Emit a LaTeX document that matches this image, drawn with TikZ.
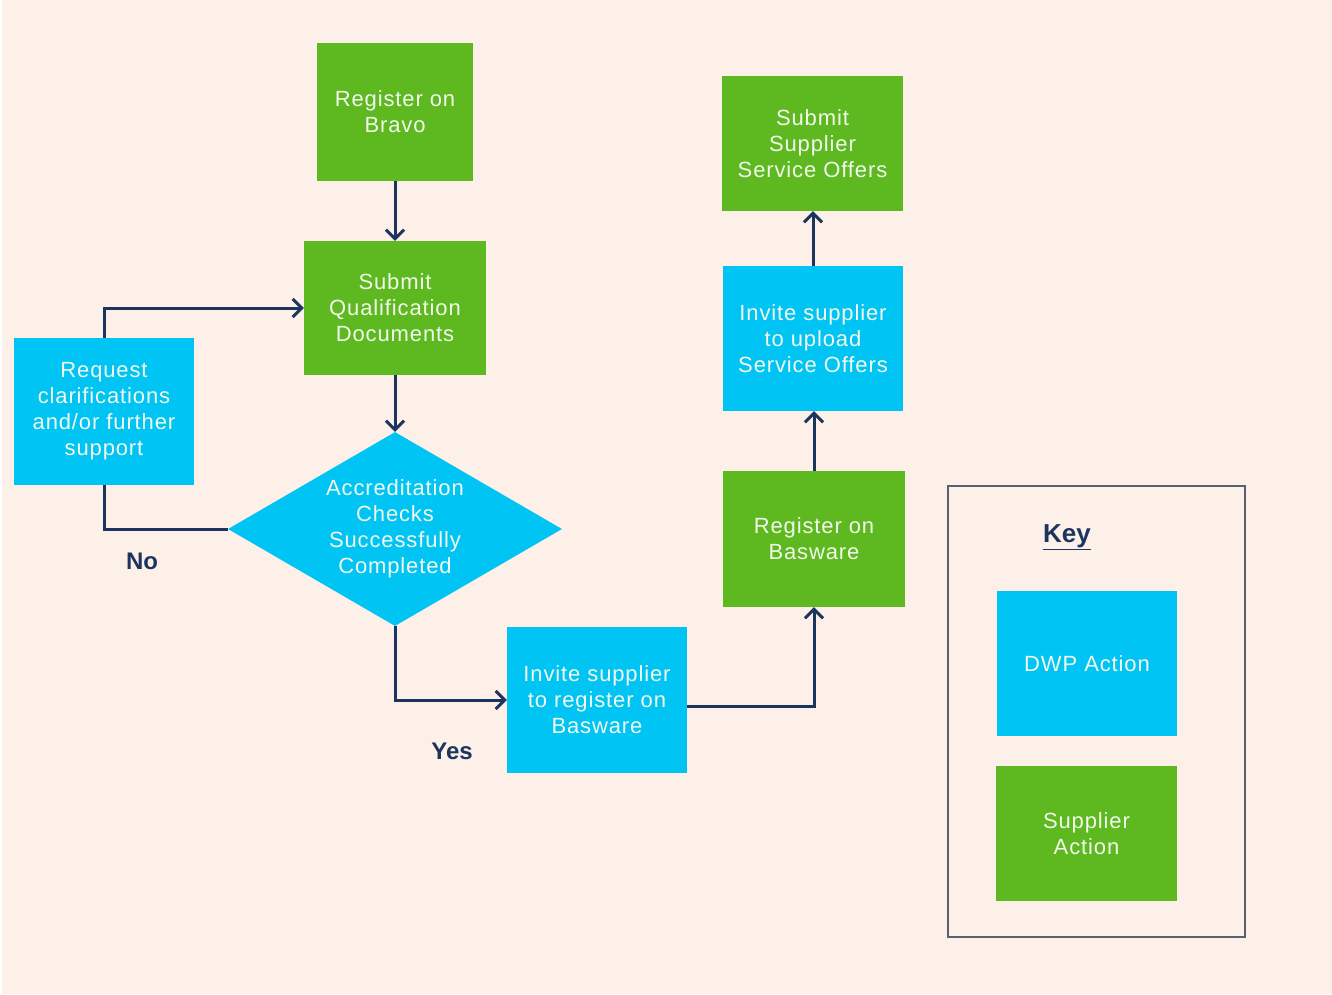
\documentclass[tikz,border=0pt]{standalone}
\usepackage{fontspec}
\setmainfont{Liberation Sans}
\newfontfamily\boxfont[LetterSpace=4]{Liberation Sans}
\usetikzlibrary{arrows.meta,shapes.geometric}
\definecolor{bg}{HTML}{FDF0E8}
\definecolor{grn}{HTML}{5DB91F}
\definecolor{blu}{HTML}{00C4F4}
\definecolor{navy}{HTML}{1C355E}
\definecolor{txt}{HTML}{F2F8EC}
\definecolor{keygray}{HTML}{5A6070}
\begin{document}
\begin{tikzpicture}[x=1pt,y=-1pt,
  base/.style={rectangle, inner sep=0pt, align=center, text=txt,
    font=\boxfont\fontsize{22}{26}\selectfont},
  gbox/.style={base, fill=grn},
  bbox/.style={base, fill=blu},
  conn/.style={draw=navy, line width=3pt},
  arr/.style={conn, -{Straight Barb[length=9pt,width=18pt,line width=3pt]}},
  lbl/.style={text=navy, font=\bfseries\fontsize{24}{28}\selectfont}
]
\useasboundingbox (0,0) rectangle (1332,994);
\fill[bg] (0,0) rectangle (1332,994);
\fill[white] (0,0) rectangle (2,994);

\node[gbox, minimum width=156, minimum height=138] (bravo) at (395,112) {Register on\\Bravo};
\node[gbox, minimum width=182, minimum height=134] (subq) at (395,308) {Submit\\Qualification\\Documents};
\node[bbox, minimum width=180, minimum height=147] (req) at (104,411.5) {Request\\clarifications\\and/or further\\support};
\node[shape=diamond, fill=blu, inner sep=0pt, minimum width=334, minimum height=194] (diam) at (395,529) {};
\node[base] (diamtxt) at (diam.center) {Accreditation\\Checks\\Successfully\\Completed};
\node[bbox, minimum width=180, minimum height=146] (inv1) at (597,700) {Invite supplier\\to register on\\Basware};
\node[gbox, minimum width=182, minimum height=136] (regb) at (814,539) {Register on\\Basware};
\node[bbox, minimum width=180, minimum height=145] (inv2) at (813,338.5) {Invite supplier\\to upload\\Service Offers};
\node[gbox, minimum width=181, minimum height=135] (subo) at (812.5,143.5) {Submit\\Supplier\\Service Offers};

\node[draw=keygray, line width=1.5pt, minimum width=297, minimum height=451, inner sep=0pt] (key) at (1096.5,711.5) {};
\node[text=navy, font=\bfseries\fontsize{26}{30}\selectfont] (keyl) at (1067,537) {\underline{Key}};
\node[bbox, minimum width=180, minimum height=145] (dwp) at (1087,663.5) {DWP Action};
\node[gbox, minimum width=181, minimum height=135] (sup) at (1086.5,833.5) {Supplier\\Action};

\node[lbl] (no) at (142,561) {No};
\node[lbl] (yes) at (452,751) {Yes};

\draw[arr] (bravo) -- (subq);
\draw[arr] (subq) -- (diam);
\draw[conn] (diam.west) -| (req.south);
\draw[arr] (req.north) |- (subq.west);
\draw[arr] (diam.south) |- (inv1.west);
\draw[arr] ([yshift=-6pt]inv1.east) -| (regb.south);
\draw[arr] (regb.north) -- (regb.north |- inv2.south);
\draw[arr] (inv2.north) -- (inv2.north |- subo.south);
\end{tikzpicture}
\end{document}
